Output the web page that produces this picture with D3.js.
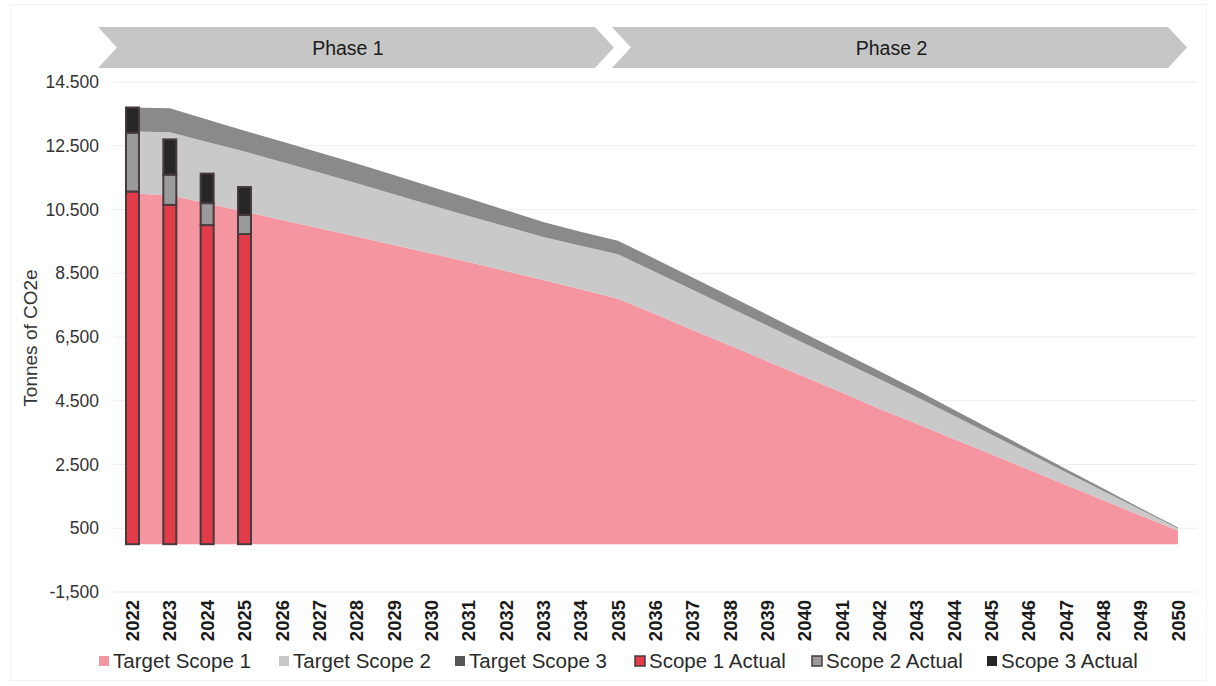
<!DOCTYPE html>
<html><head><meta charset="utf-8">
<script src="https://cdn.jsdelivr.net/npm/d3@7"></script>
<style>
body{margin:0;background:#fff}
text{font-family:"Liberation Sans",Arial,sans-serif}
</style>
</head><body>
<svg id="c" width="1216" height="686"></svg>
<script>
// ---------- DATA ----------
const years = [2022,2023,2024,2025,2026,2027,2028,2029,2030,2031,2032,2033,2034,2035,
               2036,2037,2038,2039,2040,2041,2042,2043,2044,2045,2046,2047,2048,2049,2050];
const targetScope1 = [11000,10950,10700,10430,10170,9910,9650,9390,9120,8850,8570,8290,8000,7700,
                      7220,6720,6230,5740,5250,4760,4250,3780,3300,2820,2340,1860,1380,900,430];
const targetScope2 = [1950,1970,1920,1890,1820,1750,1670,1590,1510,1450,1400,1350,1360,1400,
                      1320,1260,1190,1120,1050,980,930,840,730,620,510,400,290,180,60];
const targetScope3 = [750,760,700,650,640,630,620,600,580,550,510,470,440,420,
                      410,390,370,340,310,280,250,220,190,160,130,100,80,50,30];
const actualYears  = [2022,2023,2024,2025];
const actualScope1 = [11065,10645,10010,9730];
const actualScope2 = [1845,948,690,600];
const actualScope3 = [790,1107,925,875];
const yTicks       = [-1500,500,2500,4500,6500,8500,10500,12500,14500];
const yTickLabels  = ["-1,500","500","2.500","4.500","6,500","8.500","10.500","12.500","14.500"];
const phaseNames   = ["Phase 1","Phase 2"];
const phaseStart   = [2022,2035];
const phaseEnd     = [2035,2050];
const legendLabels = ["Target Scope 1","Target Scope 2","Target Scope 3","Scope 1 Actual","Scope 2 Actual","Scope 3 Actual"];

// ---------- STYLE ----------
const colTarget = ["#F5959F","#C9C9C9","#8A8A8A"];
const colActual = ["#E23C4B","#9A9A9A","#262626"];
const barStroke = "#463a3c";

const svg = d3.select("#c");

const x = d3.scaleBand().domain(years).range([113.8, 1196.7])
  .paddingInner(0.652).paddingOuter(0.326);
const cx = d => x(d) + x.bandwidth()/2;
const y = d3.scaleLinear().domain([-1500, 14500]).range([592, 82]);

// faint outer frame
svg.append("rect").attr("x",10.5).attr("y",4.5).attr("width",1196).attr("height",676)
  .attr("fill","none").attr("stroke","#f2f2f2");

// gridlines
svg.append("g").selectAll("line").data(yTicks).join("line")
  .attr("x1",113).attr("x2",1197)
  .attr("y1",d=>y(d)).attr("y2",d=>y(d))
  .attr("stroke","#ededed").attr("stroke-width",1);

// y tick labels
svg.append("g").selectAll("text").data(yTicks).join("text")
  .attr("x",99).attr("y",d=>y(d)).attr("dy","0.35em")
  .attr("text-anchor","end").attr("font-size",17.5).attr("fill","#333")
  .text((d,i)=>yTickLabels[i]);

// y axis title
svg.append("text").attr("transform","translate(37,338) rotate(-90)")
  .attr("text-anchor","middle").attr("font-size",19).attr("fill","#333")
  .text("Tonnes of CO2e");

// target stacked areas
const targetTable = years.map((yr,i)=>({year:yr, s1:targetScope1[i], s2:targetScope2[i], s3:targetScope3[i]}));
const keys = ["s1","s2","s3"];
const tStack = d3.stack().keys(keys)(targetTable);
const area = d3.area().x(d=>cx(d.data.year)).y0(d=>y(d[0])).y1(d=>y(d[1]));
svg.append("g").selectAll("path").data(tStack).join("path")
  .attr("d",area).attr("fill",(d,i)=>colTarget[i]);

// actual stacked bars
const actualTable = actualYears.map((yr,i)=>({year:yr, s1:actualScope1[i], s2:actualScope2[i], s3:actualScope3[i]}));
const aStack = d3.stack().keys(keys)(actualTable);
const gBars = svg.append("g");
aStack.forEach((layer,li)=>{
  gBars.selectAll(null).data(layer).join("rect")
    .attr("x",d=>x(d.data.year)).attr("width",x.bandwidth())
    .attr("y",d=>y(d[1])).attr("height",d=>y(d[0])-y(d[1]))
    .attr("fill",colActual[li]).attr("stroke",barStroke).attr("stroke-width",2);
});

// x tick labels
svg.append("g").selectAll("text").data(years).join("text")
  .attr("transform",d=>`translate(${cx(d)},600) rotate(-90)`)
  .attr("dy","0.36em").attr("text-anchor","end")
  .attr("font-size",18.5).attr("font-weight","bold").attr("fill","#1a1a1a")
  .text(d=>d);

// phase banners
const bTop=27, bBot=68, bMid=47.5, dep=19;
phaseNames.forEach((name,i)=>{
  const L = i===0 ? cx(phaseStart[i]) - 34.5 : cx(phaseStart[i]) - 6;
  const T = i===0 ? cx(phaseEnd[i]) - 4 : cx(phaseEnd[i]) + 9;
  const pts = [[L,bTop],[T-dep,bTop],[T,bMid],[T-dep,bBot],[L,bBot],[L+dep,bMid]];
  svg.append("polygon").attr("points",pts.map(p=>p.join(",")).join(" "))
    .attr("fill","#C6C6C6");
  svg.append("text").attr("x",(L+T)/2-8).attr("y",bMid).attr("dy","0.36em")
    .attr("text-anchor","middle").attr("font-size",19.5).attr("fill","#1a1a1a")
    .text(name);
});

// legend
const legX = [99,279,455,635,812,987];
const legFill = [colTarget[0],colTarget[1],"#555",colActual[0],colActual[1],colActual[2]];
const legStroke = [null,null,null,barStroke,barStroke,null];
const lg = svg.append("g");
legendLabels.forEach((lab,i)=>{
  lg.append("rect").attr("x",legX[i]).attr("y",656).attr("width",10).attr("height",10)
    .attr("fill",legFill[i]).attr("stroke",legStroke[i]||"none").attr("stroke-width",1.5);
  lg.append("text").attr("x",legX[i]+14).attr("y",661).attr("dy","0.36em")
    .attr("font-size",20.5).attr("fill","#2a2a2a").text(lab);
});
</script>
</body></html>
